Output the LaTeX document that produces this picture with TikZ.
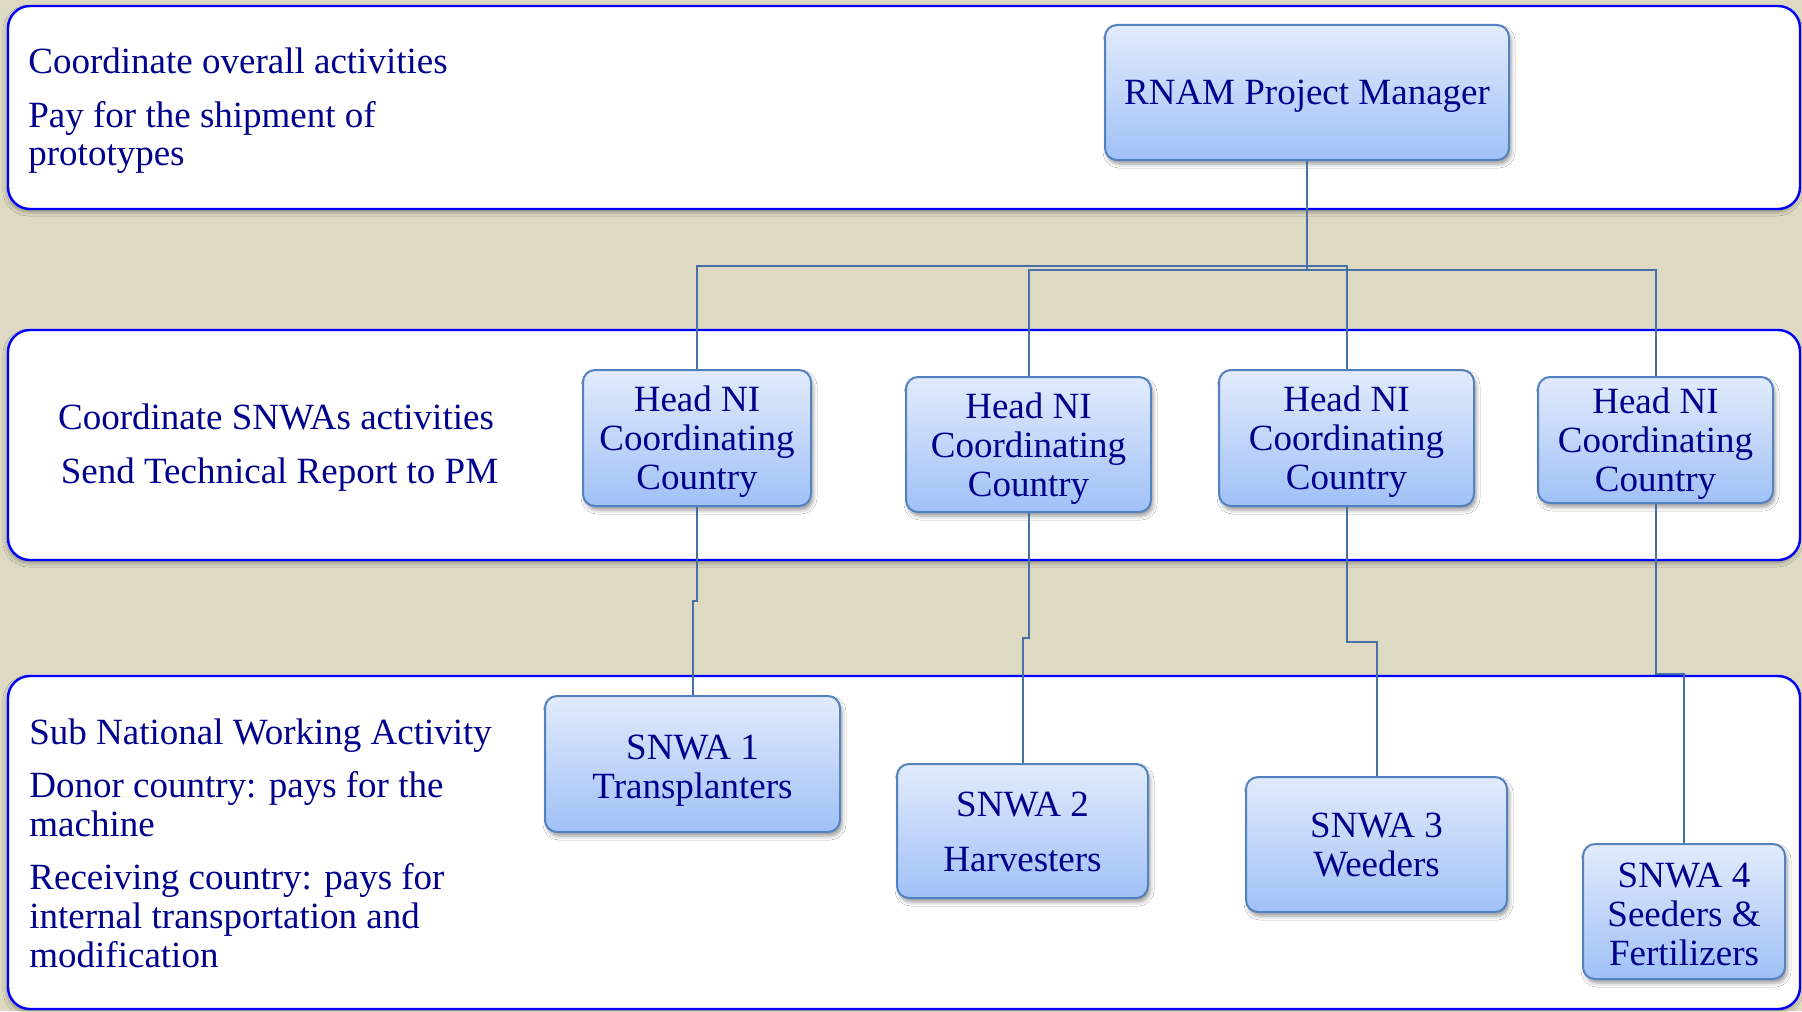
\documentclass[tikz,border=0pt]{standalone}
\usepackage{fontspec}
\setmainfont{Liberation Serif}
\usetikzlibrary{shadows.blur}
\definecolor{bgtan}{RGB}{221,217,195}
\definecolor{bandblue}{RGB}{0,0,250}
\definecolor{navytext}{RGB}{0,0,140}
\definecolor{boxtop}{RGB}{226,235,252}
\definecolor{boxbot}{RGB}{160,193,247}
\definecolor{boxline}{RGB}{84,130,190}
\definecolor{connline}{RGB}{70,112,168}
\tikzset{
  band/.style={draw=bandblue, line width=1.2pt, fill=white, rounded corners=11pt,
    blur shadow={shadow xshift=-0.6pt, shadow yshift=-1.5pt, shadow opacity=35, shadow blur radius=2pt}},
  box/.style={draw=boxline, line width=1pt, rounded corners=6pt, top color=boxtop, bottom color=boxbot,
    inner sep=0pt, align=center, text=navytext, font=\fontsize{18.5pt}{19.5pt}\selectfont, text depth=0pt,
    blur shadow={shadow xshift=1pt, shadow yshift=-2pt, shadow opacity=40, shadow blur radius=2pt}},
  lbl/.style={text=navytext, font=\fontsize{18.5pt}{19.5pt}\selectfont, inner sep=0pt},
  conn/.style={draw=connline, line width=1pt}
}
\begin{document}
\begin{tikzpicture}[x=0.5pt,y=-0.5pt]
\fill[bgtan] (0,0) rectangle (1802,1011);
\useasboundingbox (0,0) rectangle (1802,1011);
% bands
\draw[band] (8,6) rectangle (1800,209);
\draw[band] (8,330) rectangle (1800,560);
\draw[band] (8,676) rectangle (1800,1009);
% band texts
\node[lbl, anchor=base west] (t1a) at (28,74) {Coordinate overall activities};
\node[lbl, anchor=base west] (t1b) at (28,127) {Pay for the shipment of};
\node[lbl, anchor=base west] (t1c) at (28,165) {prototypes};
\node[lbl, anchor=base] (t2a) at (276,429) {Coordinate SNWAs activities};
\node[lbl, anchor=base] (t2b) at (279.5,483) {Send Technical Report to PM};
\node[lbl, anchor=base west] (t3a) at (29,744) {Sub National Working Activity};
\node[lbl, anchor=base west] (t3b) at (29,797) {Donor country: pays for the};
\node[lbl, anchor=base west] (t3c) at (29,836) {machine};
\node[lbl, anchor=base west] (t3d) at (29,889) {Receiving country: pays for};
\node[lbl, anchor=base west] (t3e) at (29,928) {internal transportation and};
\node[lbl, anchor=base west] (t3f) at (29,967) {modification};
% boxes
\node[box, minimum width=202pt, minimum height=67.5pt] (rnam) at (1307,92.5) {RNAM Project Manager};
\node[box, minimum width=114pt, minimum height=68pt] (h1) at (697,438) {Head NI\\Coordinating\\Country};
\node[box, minimum width=122.5pt, minimum height=67.5pt] (h2) at (1028.5,444.5) {Head NI\\Coordinating\\Country};
\node[box, minimum width=127.5pt, minimum height=68pt] (h3) at (1346.5,438) {Head NI\\Coordinating\\Country};
\node[box, minimum width=117.5pt, minimum height=63pt] (h4) at (1655.5,440) {Head NI\\Coordinating\\Country};
\node[box, minimum width=147.5pt, minimum height=68pt] (s1) at (692.5,764) {\rule{0pt}{14.5pt}SNWA 1\\Transplanters};
\node[box, minimum width=125.5pt, minimum height=67pt] (s2) at (1022.5,831) {\rule{0pt}{13.4pt}SNWA 2\\[8pt]Harvesters};
\node[box, minimum width=130.5pt, minimum height=67.5pt] (s3) at (1376.5,844.5) {SNWA 3\\Weeders};
\node[box, minimum width=101pt, minimum height=67.5pt] (s4) at (1684,911.5) {\rule{0pt}{14.5pt}SNWA 4\\Seeders \&\\Fertilizers};
% connectors
\draw[conn] (rnam.south) -- ++(0,105) -| (h1.north);
\draw[conn] (rnam.south) -- ++(0,109) -| (h2.north);
\draw[conn] (rnam.south) -- ++(0,105) -| (h3.north);
\draw[conn] (rnam.south) -- ++(0,109) -| (h4.north);
\draw[conn] (h1.south) -- ++(0,94) -| (s1.north);
\draw[conn] (h2.south) -- ++(0,125) -| (s2.north);
\draw[conn] (h3.south) -- ++(0,135) -| (s3.north);
\draw[conn] (h4.south) -- ++(0,170) -| (s4.north);
\end{tikzpicture}
\end{document}
